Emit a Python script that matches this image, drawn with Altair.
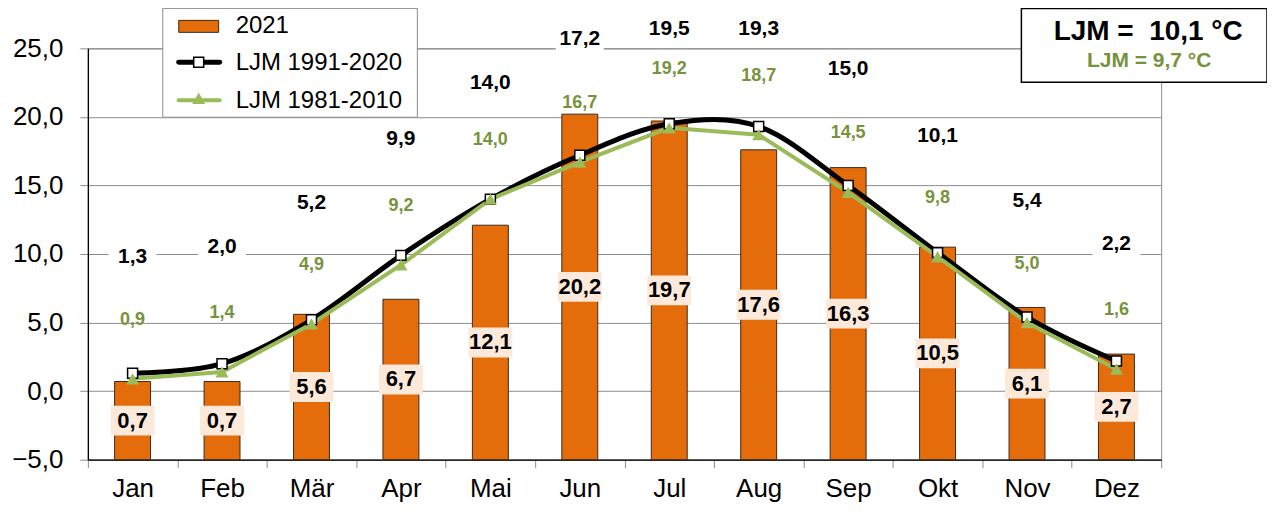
import altair as alt
import pandas as pd

months = ["Jan", "Feb", "Mär", "Apr", "Mai", "Jun", "Jul", "Aug", "Sep", "Okt", "Nov", "Dez"]
t2021 = [0.7, 0.7, 5.6, 6.7, 12.1, 20.2, 19.7, 17.6, 16.3, 10.5, 6.1, 2.7]
ljm_9120 = [1.3, 2.0, 5.2, 9.9, 14.0, 17.2, 19.5, 19.3, 15.0, 10.1, 5.4, 2.2]
ljm_8110 = [0.9, 1.4, 4.9, 9.2, 14.0, 16.7, 19.2, 18.7, 14.5, 9.8, 5.0, 1.6]
y_ticks = [-5, 0, 5, 10, 15, 20, 25]
series_names = ["2021", "LJM 1991-2020", "LJM 1981-2010"]
annual_text = ["LJM =\u00a0 10,1 °C", "LJM = 9,7 °C"]

df = pd.DataFrame({"month": months, "t2021": t2021, "a": ljm_9120, "b": ljm_8110})
one = pd.DataFrame({"k": [0]})

FONT = "Liberation Sans"
ORANGE = "#E46C0A"
GREEN = "#9BBB59"
GREEN_TXT = "#77933C"
GRID = "#8c8c8c"

xscale = alt.Scale(domain=months, paddingInner=0, paddingOuter=0)
yscale = alt.Scale(domain=[-5, 25], nice=False, zero=False)
xaxis = alt.Axis(tickBand="extent", tickSize=8, tickColor=GRID, domainColor="black",
                 domainWidth=1.3, labelAngle=0, labelFontSize=26, labelFont=FONT,
                 labelColor="black", labelPadding=8, grid=False, title=None)
yaxis = alt.Axis(values=y_ticks, labelExpr="replace(format(datum.value,'.1f'),'.',',')",
                 grid=True, gridColor=GRID, gridWidth=1, domainColor="black", domainWidth=1.3,
                 tickColor=GRID, tickSize=8, labelFontSize=26, labelFont=FONT,
                 labelColor="black", labelPadding=17, title=None)


def X():
    return alt.X("month:N", sort=months, scale=xscale, axis=xaxis, title=None)


def Y(field):
    return alt.Y(field, type="quantitative", scale=yscale, axis=yaxis, title=None)


fmt = lambda f: f"replace(format(datum.{f}, '.1f'), '.', ',')"

base = alt.Chart(df).transform_calculate(
    mid="(datum.t2021 + (-5)) / 2",
    la="min(datum.a + 8.5, 26.4)",
    lb="datum.b + 4.3",
    t1=fmt("t2021"), ta=fmt("a"), tb=fmt("b"),
)

bars = base.mark_bar(size=36, color=ORANGE, stroke="#3d2b1f", strokeWidth=1).encode(
    x=X(), y=Y("t2021"), y2=alt.datum(-5))

box_path = "M-1,-0.68L1,-0.68L1,0.68L-1,0.68Z"
box2_path = "M-1,-0.55L1,-0.55L1,0.55L-1,0.55Z"

bar_box = base.mark_point(shape=box_path, size=44 * 44, filled=True, fill="#FDE9D9",
                          opacity=1, strokeWidth=0).encode(x=X(), y=Y("mid"))
bar_txt = base.mark_text(font=FONT, fontSize=22, fontWeight="bold", color="black",
                         baseline="middle").encode(x=X(), y=Y("mid"), text="t1:N")

a_box = base.mark_point(shape=box2_path, size=48 * 48, filled=True, fill="white",
                        opacity=1, strokeWidth=0).encode(x=X(), y=Y("la"))
a_txt = base.mark_text(font=FONT, fontSize=21, fontWeight="bold", color="black",
                       baseline="middle").encode(x=X(), y=Y("la"), text="ta:N")
b_txt = base.mark_text(font=FONT, fontSize=18, fontWeight="bold", color=GREEN_TXT,
                       baseline="middle").encode(x=X(), y=Y("lb"), text="tb:N")

a_line = base.mark_line(color="black", strokeWidth=5, interpolate="cardinal").encode(
    x=X(), y=Y("a"))
b_line = base.mark_line(color=GREEN, strokeWidth=4).encode(x=X(), y=Y("b"))
a_pts = base.mark_point(shape="square", size=100, filled=True, fill="white",
                        stroke="black", strokeWidth=1.5, opacity=1).encode(x=X(), y=Y("a"))
b_pts = base.mark_point(shape="triangle-up", size=170, filled=True, color=GREEN,
                        opacity=1).encode(x=X(), y=Y("b"))

# legend
lg = alt.Chart(one)
leg_box = lg.mark_rect(fill="white", stroke=GRID, strokeWidth=1).encode(
    x=alt.value(75), x2=alt.value(330), y=alt.value(-40), y2=alt.value(69))
leg_bar = lg.mark_rect(fill=ORANGE, stroke="#3d2b1f", strokeWidth=1).encode(
    x=alt.value(91), x2=alt.value(131), y=alt.value(-28), y2=alt.value(-16))
leg_a = lg.mark_rule(color="black", strokeWidth=5, strokeCap="round").encode(
    x=alt.value(91), x2=alt.value(132), y=alt.value(14))
leg_a_pt = lg.mark_point(shape="square", size=100, filled=True, fill="white",
                         stroke="black", strokeWidth=1.5, opacity=1).encode(
    x=alt.value(111), y=alt.value(14))
leg_b = lg.mark_rule(color=GREEN, strokeWidth=4, strokeCap="round").encode(
    x=alt.value(91), x2=alt.value(132), y=alt.value(52))
leg_b_pt = lg.mark_point(shape="triangle-up", size=170, filled=True, color=GREEN,
                         opacity=1).encode(x=alt.value(111), y=alt.value(50))
leg_texts = []
for name, yy in zip(series_names, [-22, 15, 53]):
    leg_texts.append(lg.mark_text(font=FONT, fontSize=24, color="black", align="left",
                                  baseline="middle", text=name).encode(
        x=alt.value(148), y=alt.value(yy)))

# annual box
ann_box = lg.mark_rect(fill="white", stroke="black", strokeWidth=1.5).encode(
    x=alt.value(935), x2=alt.value(1181), y=alt.value(-40), y2=alt.value(34))
ann1 = lg.mark_text(font=FONT, fontSize=28, fontWeight="bold", color="black",
                    align="center", baseline="middle", text=annual_text[0]).encode(
    x=alt.value(1062), y=alt.value(-16))
ann2 = lg.mark_text(font=FONT, fontSize=21, fontWeight="bold", color=GREEN_TXT,
                    align="center", baseline="middle", text=annual_text[1]).encode(
    x=alt.value(1063), y=alt.value(13))

chart = alt.layer(
    bars, bar_box, bar_txt, a_box, a_txt, b_txt,
    a_line, b_line, a_pts, b_pts,
    leg_box, leg_bar, leg_a, leg_a_pt, leg_b, leg_b_pt, *leg_texts,
    ann_box, ann1, ann2,
).properties(
    width=1075, height=412,
    autosize=alt.AutoSizeParams(type="none"),
    padding={"left": 80, "top": 40, "right": 106, "bottom": 43},
).configure_view(stroke=GRID, strokeWidth=1)

chart.save("out.html", embed_options={"renderer": "svg", "actions": False})
